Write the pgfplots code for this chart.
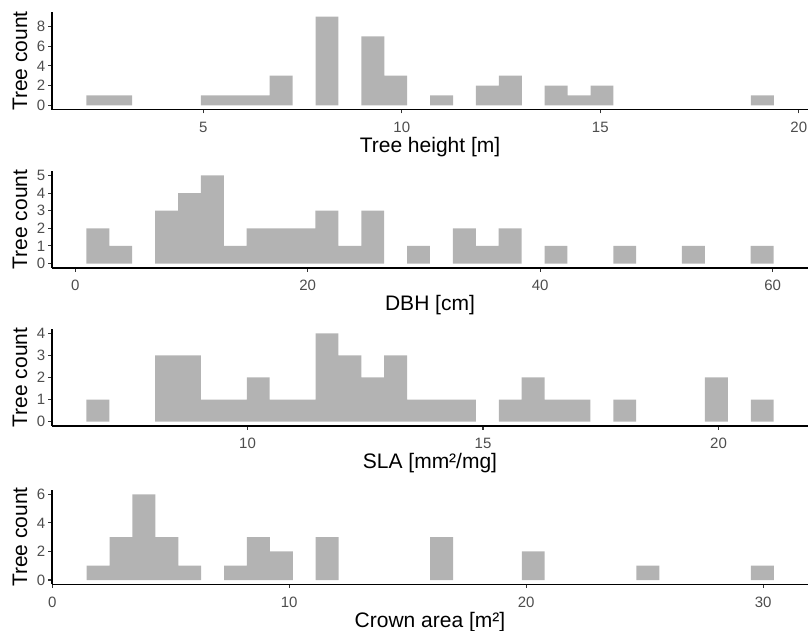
\documentclass[border=0pt]{standalone}
\usepackage{fontspec}
\setmainfont{Liberation Sans}
\usepackage{pgfplots}
\pgfplotsset{compat=1.18}

\definecolor{barfill}{HTML}{B3B3B3}
\definecolor{ticktext}{HTML}{4D4D4D}
\definecolor{tickline}{HTML}{333333}

% one panel of the stacked histograms (1pt = 1px of the 808x631 target)
\pgfplotsset{
  histpanel/.style={
    scale only axis, width=756pt,
    axis x line*=bottom, axis y line*=left,
    axis line style={black, line width=1.07pt},
    tick align=outside, major tick length=3.7pt,
    tick style={tickline, line width=1.07pt},
    /pgf/number format/assume math mode=true,
    tick label style={font=\fontsize{15}{15}\selectfont, text=ticktext},
    xticklabel style={anchor=base, inner sep=0pt, yshift=-19.2pt},
    yticklabel style={anchor=east, inner sep=0pt, xshift=-3pt},
    label style={font=\fontsize{21}{21}\selectfont, text=black},
    ylabel={Tree count},
    ylabel style={at={(axis description cs:-0.0423,0.5)}, anchor=center},
    xlabel style={at={(axis description cs:0.5,0)}, anchor=base, yshift=-43pt},
  },
  histbars/.style={ybar, bar shift=0pt, fill=barfill, draw=none},
}

\begin{document}
\begin{tikzpicture}

% Tree height
\begin{axis}[histpanel, at={(52pt,521.3pt)}, height=97.4pt,
  xmin=1.189, xmax=20.232, ymin=-0.45, ymax=9.45,
  xtick={5,10,15,20}, ytick={0,2,4,6,8},
  xlabel={Tree height [m]}]
\addplot[histbars, bar width=0.5772] coordinates {
  (2.344,1) (2.921,1) (5.230,1) (5.807,1) (6.384,1) (6.961,3)
  (8.116,9) (9.270,7) (9.847,3) (11.002,1) (12.156,2) (12.733,3)
  (13.888,2) (14.465,1) (15.042,2) (19.082,1)
};
\end{axis}

% DBH
\begin{axis}[histpanel, at={(52pt,363pt)}, height=97pt,
  xmin=-1.996, xmax=63.04, ymin=-0.25, ymax=5.25,
  xtick={0,20,40,60}, ytick={0,1,2,3,4,5},
  xlabel={DBH [cm]}]
\addplot[histbars, bar width=1.9706] coordinates {
  (1.948,2) (3.919,1) (7.860,3) (9.830,4) (11.801,5) (13.772,1)
  (15.742,2) (17.713,2) (19.683,2) (21.654,3) (23.625,1) (25.595,3)
  (29.536,1) (33.478,2) (35.448,1) (37.419,2) (41.360,1) (47.272,1)
  (53.184,1) (59.095,1)
};
\end{axis}

% SLA
\begin{axis}[histpanel, at={(52pt,205pt)}, height=97pt,
  xmin=5.849, xmax=21.90, ymin=-0.2, ymax=4.2,
  xtick={10,15,20}, ytick={0,1,2,3,4},
  xlabel={SLA [mm²/mg]}]
\addplot[histbars, bar width=0.4864] coordinates {
  (6.823,1) (8.282,3) (8.769,3) (9.255,1) (9.741,1) (10.228,2)
  (10.714,1) (11.200,1) (11.687,4) (12.173,3) (12.660,2) (13.146,3)
  (13.633,1) (14.119,1) (14.605,1) (15.578,1) (16.065,2) (16.551,1)
  (17.037,1) (18.010,1) (19.956,2) (20.929,1)
};
\end{axis}

% Crown area
\begin{axis}[histpanel, at={(52pt,46.7pt)}, height=94.3pt,
  xmin=-0.01, xmax=31.89, ymin=-0.3, ymax=6.3,
  xtick={0,10,20,30}, ytick={0,2,4,6},
  xlabel={Crown area [m²]}]
\addplot[histbars, bar width=0.9665] coordinates {
  (1.934,1) (2.901,3) (3.867,6) (4.834,3) (5.800,1) (7.733,1)
  (8.700,3) (9.666,2) (11.599,3) (16.432,3) (20.298,2) (25.130,1)
  (29.963,1)
};
\end{axis}

\pgfresetboundingbox
\path (0pt,0pt) rectangle (808pt,631pt);
\end{tikzpicture}
\end{document}
